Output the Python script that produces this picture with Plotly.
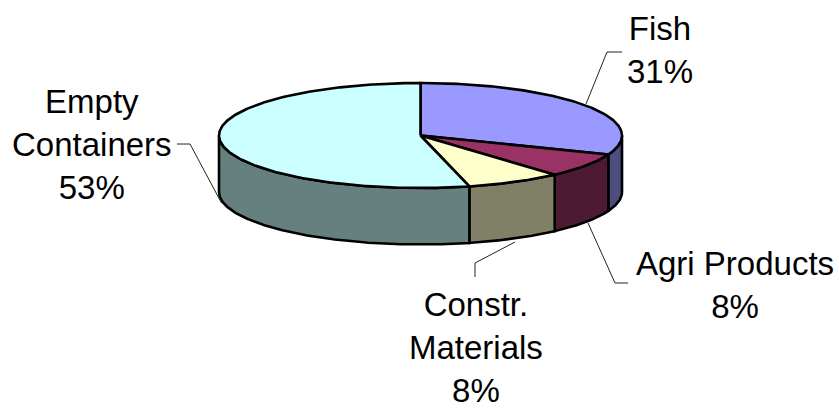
import numpy as np
import plotly.graph_objects as go

categories = ["Fish", "Agri Products", "Constr. Materials", "Empty Containers"]
# Slice sweeps; printed labels are kept separately.
measured_shares = [30.9, 7.5, 7.7, 53.9]
label_lines = ["Fish<br>31%", "Agri Products<br>8%", "Constr.<br>Materials<br>8%", "Empty<br>Containers<br>53%"]
top_colors = ["#9999FF", "#993366", "#FFFFCC", "#CCFFFF"]
side_colors = ["#4D4D80", "#4D1A33", "#808066", "#668080"]

CX, CY, RX, RY, DEPTH = 420.5, 135.5, 201.5, 52.5, 56.5


def rim(a0, a1, dy=0.0):
    a = np.radians(np.linspace(a0, a1, max(3, int(abs(a1 - a0) * 2))))
    return CX + RX * np.sin(a), CY - RY * np.cos(a) + dy


fig = go.Figure()


def poly(x, y, color):
    fig.add_trace(go.Scatter(
        x=list(x), y=list(y), mode="lines", fill="toself", fillcolor=color,
        line=dict(color="black", width=2.6), hoverinfo="skip", showlegend=False,
    ))


edges = np.concatenate([[0], np.cumsum(measured_shares)]) / sum(measured_shares) * 360

# Visible outer walls (front half of the disc only)
for i in range(len(categories)):
    a0, a1 = max(edges[i], 90), min(edges[i + 1], 270)
    if a1 > a0:
        xt, yt = rim(a0, a1)
        xb, yb = rim(a1, a0, DEPTH)
        poly(np.r_[xt, xb, xt[0]], np.r_[yt, yb, yt[0]], side_colors[i])

# Top faces
for i in range(len(categories)):
    xt, yt = rim(edges[i], edges[i + 1])
    poly(np.r_[CX, xt, CX], np.r_[CY, yt, CY], top_colors[i])

# Leader lines
leaders = [
    ([586, 607, 622], [104, 52, 52]),
    ([588, 615, 628], [223, 283, 283]),
    ([515, 475, 475], [242, 263, 277]),
    ([177, 190, 221.5], [144, 144, 203]),
]
for lx, ly in leaders:
    fig.add_trace(go.Scatter(x=lx, y=ly, mode="lines", line=dict(color="#222222", width=1),
                             hoverinfo="skip", showlegend=False))

label_pos = [(660, 50), (735, 285), (476, 347), (92, 144.5)]
for text, (lx, ly) in zip(label_lines, label_pos):
    fig.add_annotation(x=lx, y=ly, text=text, showarrow=False, xanchor="center", yanchor="middle",
                       align="center", font=dict(family="Liberation Sans, Arial, sans-serif", size=33, color="black"))

fig.update_layout(
    width=839, height=408, autosize=False, margin=dict(l=0, r=0, t=0, b=0),
    paper_bgcolor="white", plot_bgcolor="white",
    xaxis=dict(range=[0, 839], visible=False, fixedrange=True),
    yaxis=dict(range=[408, 0], visible=False, fixedrange=True),
)
fig.write_html("out.html", config={"displayModeBar": False},
               post_script="document.body.style.margin='0';document.documentElement.style.overflow='hidden';")
